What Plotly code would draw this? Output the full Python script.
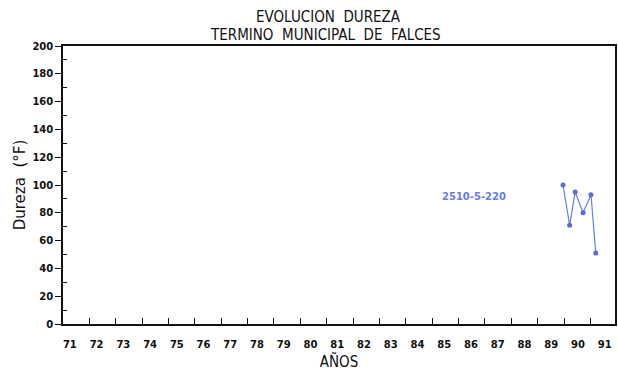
import plotly.graph_objects as go

# Hardness samples, Falces municipal district (year as decimal, hardness in °F)
years = [89.96, 90.21, 90.42, 90.72, 91.02, 91.20]
dureza = [100, 71, 95, 80, 93, 51]
serie = "2510-5-220"

first_year, last_year = 71, 91
year_labels = [str(y) for y in range(first_year, last_year + 1)]
year_ticks = list(range(first_year + 1, last_year + 1))
y_values = list(range(0, 201, 20))

ink = "#111111"
blue = "#6b7ce8"
tick_font = dict(family="DejaVu Sans", size=10, color=ink)
title_font = dict(family="DejaVu Sans Condensed", size=15, color=ink)

W, H = 618, 375
M = dict(l=63, r=1, t=46, b=51)
plot_w = W - M["l"] - M["r"]
plot_h = H - M["t"] - M["b"]


def px_to_paper(px, py):
    return (px - M["l"]) / plot_w, (H - M["b"] - py) / plot_h


# year labels sit inside each year's interval, drifting slightly rightwards
label_pos = [first_year + 0.26 + (y - first_year) * 1.014 for y in range(first_year, last_year + 1)]

fig = go.Figure()
fig.add_trace(go.Scatter(
    x=years, y=dureza, mode="lines+markers",
    line=dict(color=blue, width=1.2),
    marker=dict(color="#5e6ad8", size=5),
    showlegend=False,
))

fig.add_annotation(
    x=86.57, y=92, xref="x", yref="y", text="<b>" + serie + "</b>", showarrow=False,
    font=dict(family="DejaVu Sans", size=10, color=blue),
)

for text, (px, py) in [("EVOLUCION  DUREZA", (329, 17.5)),
                       ("TERMINO  MUNICIPAL  DE  FALCES", (326, 34.5))]:
    ax, ay = px_to_paper(px, py)
    fig.add_annotation(
        x=ax, y=ay, xref="paper", yref="paper", text=text, showarrow=False,
        xanchor="center", yanchor="middle", borderpad=0, font=title_font,
    )

fig.update_layout(
    width=W, height=H, margin=M,
    paper_bgcolor="white", plot_bgcolor="white",
    font=dict(family="DejaVu Sans", color=ink),
)

fig.update_xaxes(
    range=[71, 91.93],
    tickmode="array", tickvals=label_pos,
    ticktext=["<b>" + t + "</b>" for t in year_labels],
    ticks="", ticklabelstandoff=10,
    tickfont=tick_font,
    minor=dict(tickmode="array", tickvals=year_ticks, ticks="inside",
               ticklen=6, tickwidth=1.3, tickcolor=ink),
    showline=True, linecolor=ink, linewidth=1.5, mirror=True,
    showgrid=False, zeroline=False,
    title=dict(text="AÑOS", standoff=8, font=title_font),
)

fig.update_yaxes(
    range=[0, 200],
    tickmode="array", tickvals=y_values,
    ticktext=["<b>" + str(v) + "</b>" for v in y_values],
    ticks="outside", ticklen=6, tickwidth=1.3, tickcolor=ink,
    tickfont=tick_font,
    minor=dict(tickmode="linear", tick0=10, dtick=20, ticks="inside",
               ticklen=4, tickwidth=1.3, tickcolor=ink),
    showline=True, linecolor=ink, linewidth=1.5, mirror=True,
    showgrid=False, zeroline=False,
    title=dict(text="Dureza  (°F)", standoff=3,
               font=dict(family="DejaVu Sans", size=15, color=ink)),
)

fig.write_html("out.html")
